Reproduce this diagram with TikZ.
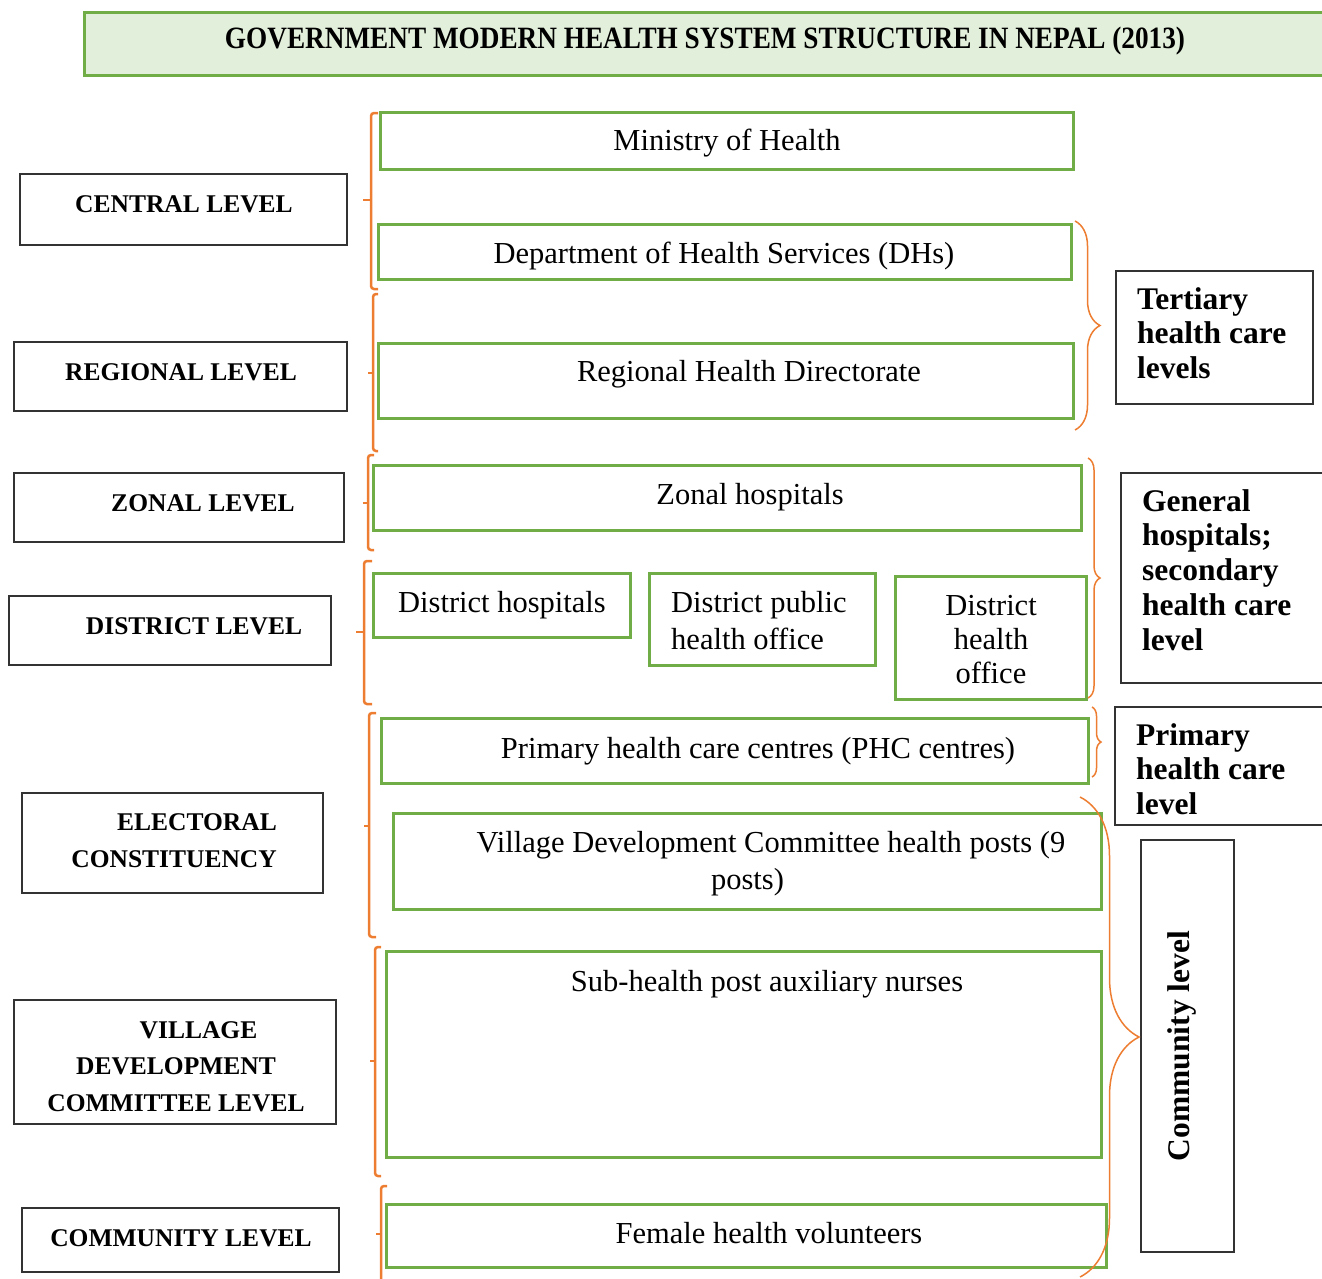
\documentclass[tikz,border=0pt]{standalone}
\usepackage{fontspec}
\setmainfont{Liberation Serif}
\usepackage{graphicx}
\usetikzlibrary{decorations.pathreplacing}
\definecolor{boxgreen}{HTML}{70AD47}
\definecolor{titlefill}{HTML}{E2EFDA}
\definecolor{braceorange}{HTML}{ED7D31}
\tikzset{
  gbox/.style={draw=boxgreen, line width=3pt},
  lvlbox/.style={draw=black!80, line width=1.5pt},
  gtxt/.style={font=\fontsize{30.5}{36.5}\selectfont, align=center, inner sep=0pt, anchor=base},
  lvltxt/.style={font=\fontsize{25.5}{36.5}\selectfont\bfseries, align=center, inner sep=0pt, anchor=base},
  caretxt/.style={font=\fontsize{31.5}{34.5}\selectfont\bfseries, align=left, inner sep=0pt, anchor=base west},
  lbrk/.style={braceorange, line width=2.5pt, rounded corners=3pt},
  rbrace/.style={braceorange, line width=1.5pt, decorate, decoration={brace, amplitude=#1}},
}
\begin{document}
\begin{tikzpicture}[x=1pt,y=-1pt]
  \useasboundingbox (0,0) rectangle (1322,1278);
  % titre
  \draw [line width=3pt, draw=boxgreen, fill=titlefill] (84,12) rectangle (1340,75);
  \node [inner sep=0pt] (titre) at (705,41) {\resizebox{960pt}{\height}{\fontsize{31}{36}\selectfont\bfseries GOVERNMENT MODERN HEALTH SYSTEM STRUCTURE IN NEPAL (2013)}};
  % green boxes
  \draw [gbox] (380,112) rectangle (1073,169);
  \draw [gbox] (378,224) rectangle (1071,279);
  \draw [gbox] (378,343) rectangle (1073,418);
  \draw [gbox] (373,465) rectangle (1081,530);
  \draw [gbox] (373,573) rectangle (630,637);
  \draw [gbox] (649,573) rectangle (875,665);
  \draw [gbox] (895,576) rectangle (1086,699);
  \draw [gbox] (381,718) rectangle (1088,783);
  \draw [gbox] (393,813) rectangle (1101,909);
  \draw [gbox] (386,951) rectangle (1101,1157);
  \draw [gbox] (386,1204) rectangle (1106,1267);
  \node [gtxt] (moh) at (727,150) {Ministry of Health};
  \node [gtxt] (dhs) at (724,263) {Department of Health Services (DHs)};
  \node [gtxt] (rhd) at (749,381) {Regional Health Directorate};
  \node [gtxt] (zonal) at (750,504) {Zonal hospitals};
  \node [gtxt] (dhosp) at (502,612) {District hospitals};
  \node [gtxt, align=left, anchor=base west] (dpho) at (671,649) {District public\\health office};
  \node [gtxt, font=\fontsize{30.5}{34}\selectfont] (dho) at (991,683) {District\\health\\office};
  \node [gtxt] (phc) at (758,758) {Primary health care centres (PHC centres)};
  \node [gtxt] (vdc) at (771,889) {Village Development Committee health posts (9\\posts)\hspace*{47pt}};
  \node [gtxt] (shp) at (767,991) {Sub-health post auxiliary nurses};
  \node [gtxt] (fhv) at (769,1243) {Female health volunteers};
  % levels
  \draw [lvlbox] (20,174) rectangle (347,245);
  \draw [lvlbox] (14,342) rectangle (347,411);
  \draw [lvlbox] (14,473) rectangle (344,542);
  \draw [lvlbox] (9,596) rectangle (331,665);
  \draw [lvlbox] (22,793) rectangle (323,893);
  \draw [lvlbox] (14,1000) rectangle (336,1124);
  \draw [lvlbox] (22,1208) rectangle (339,1272);
  \node [lvltxt] (central) at (184,212) {CENTRAL LEVEL};
  \node [lvltxt] (regional) at (181,380) {REGIONAL LEVEL};
  \node [lvltxt] (zonallvl) at (203,511) {ZONAL LEVEL};
  \node [lvltxt] (district) at (194,634) {DISTRICT LEVEL};
  \node [lvltxt, align=right, anchor=base east] (electoral) at (277,867) {ELECTORAL\\CONSTITUENCY};
  \node [lvltxt] (village) at (176,1111) {\hspace*{45pt}VILLAGE\\DEVELOPMENT\\COMMITTEE LEVEL};
  \node [lvltxt] (community) at (181,1246) {COMMUNITY LEVEL};
  % care levels
  \draw [lvlbox] (1116,271) rectangle (1313,404);
  \draw [lvlbox] (1121,473) rectangle (1340,683);
  \draw [lvlbox] (1115,707) rectangle (1340,825);
  \draw [lvlbox] (1141,840) rectangle (1234,1252);
  \node [caretxt] (tertiary) at (1137,378) {Tertiary\\health care\\levels};
  \node [caretxt, font=\fontsize{31.5}{34.75}\selectfont\bfseries] (general) at (1142,650) {General\\hospitals;\\secondary\\health care\\level};
  \node [caretxt] (primary) at (1136,814) {Primary\\health care\\level};
  \node [inner sep=0pt, rotate=90, font=\fontsize{31.5}{36}\selectfont\bfseries] (commlvl) at (1182,1046) {Community level};
  % left brackets
  \draw [lbrk] (378,113) -- (371,113) -- (371,289) -- (378,289);
  \draw [lbrk] (371,200) -- (363,200);
  \draw [lbrk] (378,294) -- (373,294) -- (373,451) -- (378,451);
  \draw [lbrk] (373,373) -- (368,373);
  \draw [lbrk] (374,455) -- (368,455) -- (368,550) -- (374,550);
  \draw [lbrk] (368,503) -- (363,503);
  \draw [lbrk] (372,561) -- (364,561) -- (364,704) -- (372,704);
  \draw [lbrk] (364,632) -- (356,632);
  \draw [lbrk] (376,713) -- (369,713) -- (369,937) -- (376,937);
  \draw [lbrk] (369,826) -- (364,826);
  \draw [lbrk] (381,947) -- (375,947) -- (375,1176) -- (381,1176);
  \draw [lbrk] (375,1061) -- (370,1061);
  \draw [lbrk] (387,1186) -- (381,1186) -- (381,1290);
  \draw [lbrk] (381,1234) -- (376,1234);
  % right braces
  \draw [rbrace=25] (1075,221) -- (1075,430);
  \draw [rbrace=12] (1088,458) -- (1088,698);
  \draw [rbrace=9] (1092,707) -- (1092,777);
  \draw [rbrace=59] (1080,797) -- (1080,1277);
\end{tikzpicture}
\end{document}
